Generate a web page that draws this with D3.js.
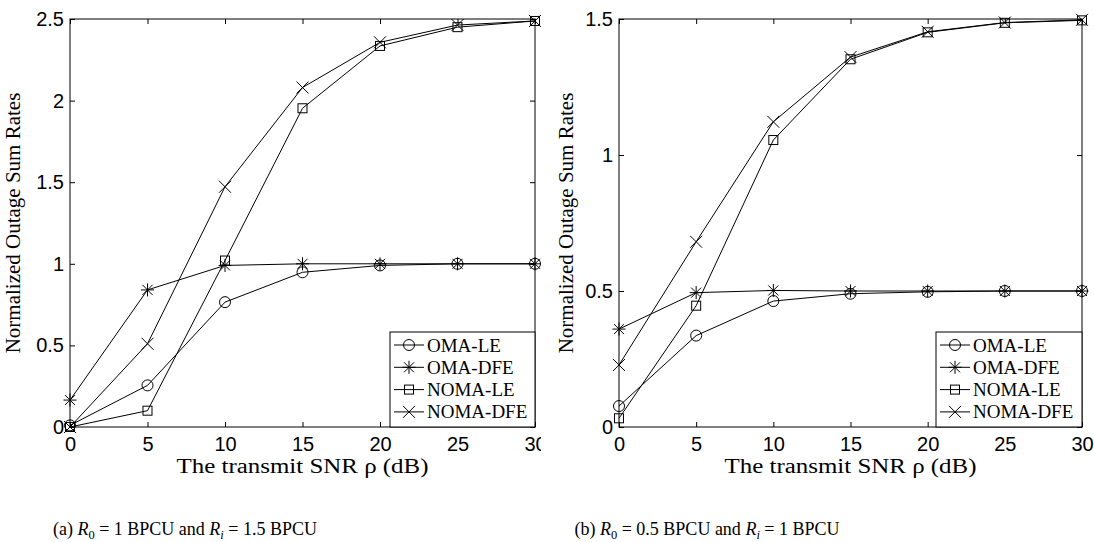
<!DOCTYPE html>
<html>
<head>
<meta charset="utf-8">
<script src="https://cdn.jsdelivr.net/npm/d3@7"></script>
<style>
  body { margin: 0; background: #fff; }
  svg { display: block; }
  .tick text { font-family: "Liberation Sans", Arial, sans-serif; font-size: 20px; fill: #000; }
  .serif { font-family: "Liberation Serif", "Times New Roman", serif; fill: #000; }
</style>
</head>
<body>
<svg id="chart" width="1094" height="542"></svg>
<script>
const snr = [0, 5, 10, 15, 20, 25, 30];
const seriesNames = ["OMA-LE", "OMA-DFE", "NOMA-LE", "NOMA-DFE"];
const markers = ["circle", "asterisk", "square", "cross"];

// panel (a): R0 = 1, Ri = 1.5
const omaLeA = [0.01, 0.255, 0.765, 0.948, 0.99, 1.0, 1.0];
const omaDfeA = [0.165, 0.84, 0.99, 1.0, 1.0, 1.0, 1.0];
const nomaLeA = [0.0, 0.10, 1.02, 1.953, 2.335, 2.45, 2.488];
const nomaDfeA = [0.0, 0.51, 1.472, 2.08, 2.357, 2.463, 2.488];
const yTicksA = [0, 0.5, 1, 1.5, 2, 2.5];

// panel (b): R0 = 0.5, Ri = 1
const omaLeB = [0.077, 0.336, 0.463, 0.49, 0.497, 0.5, 0.5];
const omaDfeB = [0.36, 0.494, 0.502, 0.5, 0.5, 0.5, 0.5];
const nomaLeB = [0.032, 0.446, 1.055, 1.352, 1.451, 1.486, 1.495];
const nomaDfeB = [0.228, 0.681, 1.122, 1.36, 1.453, 1.487, 1.497];
const yTicksB = [0, 0.5, 1, 1.5];

const xTicks = [0, 5, 10, 15, 20, 25, 30];
const xLabel = "The transmit SNR ρ (dB)";
const yLabel = "Normalized Outage Sum Rates";

const svg = d3.select("#chart");

function drawMarker(g, type, x, y) {
  if (type === "circle") {
    g.append("circle").attr("cx", x).attr("cy", y).attr("r", 5.5)
      .attr("fill", "none").attr("stroke", "#000");
  } else if (type === "square") {
    g.append("rect").attr("x", x - 4.5).attr("y", y - 4.5).attr("width", 9).attr("height", 9)
      .attr("fill", "none").attr("stroke", "#000");
  } else if (type === "cross") {
    g.append("path").attr("d", `M${x - 6},${y - 6}L${x + 6},${y + 6}M${x - 6},${y + 6}L${x + 6},${y - 6}`)
      .attr("stroke", "#000");
  } else {
    const d = 5;
    g.append("path")
      .attr("d", `M${x - 6.5},${y}L${x + 6.5},${y}M${x},${y - 6.5}L${x},${y + 6.5}M${x - d},${y - d}L${x + d},${y + d}M${x - d},${y + d}L${x + d},${y - d}`)
      .attr("stroke", "#000");
  }
}

function drawPanel(opt) {
  const g = svg.append("g");
  if (opt.clipW) {
    const id = "clip" + opt.left;
    svg.append("clipPath").attr("id", id)
      .append("rect").attr("x", 0).attr("y", 0).attr("width", opt.clipW).attr("height", 542);
    g.attr("clip-path", `url(#${id})`);
  }

  const x = d3.scaleLinear().domain([0, 30]).range([opt.left, opt.right]);
  const y = d3.scaleLinear().domain([0, opt.yMax]).range([opt.bottom, opt.top]);

  // frame
  g.append("rect")
    .attr("x", opt.left).attr("y", opt.top)
    .attr("width", opt.right - opt.left).attr("height", opt.bottom - opt.top)
    .attr("fill", "none").attr("stroke", "#000");

  const axB = g.append("g").attr("transform", `translate(0,${opt.bottom})`)
    .call(d3.axisBottom(x).tickValues(xTicks).tickSizeInner(-5).tickSizeOuter(0).tickPadding(10).tickFormat(d3.format("d")));
  const axT = g.append("g").attr("transform", `translate(0,${opt.top})`)
    .call(d3.axisTop(x).tickValues(xTicks).tickSizeInner(-5).tickSizeOuter(0).tickFormat(""));
  const axL = g.append("g").attr("transform", `translate(${opt.left},0)`)
    .call(d3.axisLeft(y).tickValues(opt.yTicks).tickSizeInner(-5).tickSizeOuter(0).tickPadding(6).tickFormat(d => d));
  const axR = g.append("g").attr("transform", `translate(${opt.right},0)`)
    .call(d3.axisRight(y).tickValues(opt.yTicks).tickSizeInner(-5).tickSizeOuter(0).tickFormat(""));
  [axB, axT, axL, axR].forEach(a => {
    a.select(".domain").remove();
    a.selectAll(".tick line").attr("stroke", "#000");
  });

  const line = d3.line().x((d, i) => x(snr[i])).y(d => y(d));
  opt.series.forEach((vals, k) => {
    g.append("path").datum(vals).attr("d", line)
      .attr("fill", "none").attr("stroke", "#000").attr("stroke-width", 1);
    vals.forEach((v, i) => drawMarker(g, markers[k], x(snr[i]), y(v)));
  });

  // legend
  const lx = opt.legendX, lw = opt.right - opt.legendX;
  const ly = opt.bottom - 95;
  g.append("rect").attr("x", lx).attr("y", ly).attr("width", lw).attr("height", 95)
    .attr("fill", "#fff").attr("stroke", "#000");
  seriesNames.forEach((name, k) => {
    const cy = ly + 13 + k * 22.3;
    g.append("line").attr("x1", lx + 4).attr("x2", lx + 34).attr("y1", cy).attr("y2", cy)
      .attr("stroke", "#000");
    drawMarker(g, markers[k], lx + 19, cy);
    g.append("text").attr("class", "serif").attr("x", lx + 37).attr("y", cy + 6.5)
      .attr("font-size", 19).text(name);
  });

  // axis titles
  svg.append("text").attr("class", "serif").attr("text-anchor", "middle")
    .attr("x", (opt.left + opt.right) / 2).attr("y", opt.bottom + 46)
    .attr("font-size", 20).attr("textLength", 252).attr("lengthAdjust", "spacingAndGlyphs")
    .text(xLabel);
  svg.append("text").attr("class", "serif").attr("text-anchor", "middle")
    .attr("transform", `translate(${opt.yLabelX},${(opt.top + opt.bottom) / 2}) rotate(-90)`)
    .attr("font-size", 21).text(yLabel);

  // caption
  const cap = svg.append("text").attr("class", "serif").attr("text-anchor", "middle")
    .attr("x", opt.capX).attr("y", 535).attr("font-size", 18);
  cap.append("tspan").text(opt.capTag + "  ");
  cap.append("tspan").attr("font-style", "italic").text("R");
  cap.append("tspan").attr("font-size", 12.5).attr("dy", 4).text("0");
  cap.append("tspan").attr("dy", -4).text(" = " + opt.r0 + " BPCU and ");
  cap.append("tspan").attr("font-style", "italic").text("R");
  cap.append("tspan").attr("font-size", 12.5).attr("font-style", "italic").attr("dy", 4).text("i");
  cap.append("tspan").attr("dy", -4).text(" = " + opt.ri + " BPCU");
}

drawPanel({
  left: 70, right: 535, top: 19, bottom: 427, yMax: 2.5, yTicks: yTicksA,
  series: [omaLeA, omaDfeA, nomaLeA, nomaDfeA], legendX: 390, yLabelX: 20,
  capX: 185, capTag: "(a)", r0: "1", ri: "1.5", clipW: 541
});
drawPanel({
  left: 619, right: 1082, top: 19, bottom: 427, yMax: 1.5, yTicks: yTicksB,
  series: [omaLeB, omaDfeB, nomaLeB, nomaDfeB], legendX: 936, yLabelX: 573,
  capX: 707, capTag: "(b)", r0: "0.5", ri: "1"
});
</script>
</body>
</html>
